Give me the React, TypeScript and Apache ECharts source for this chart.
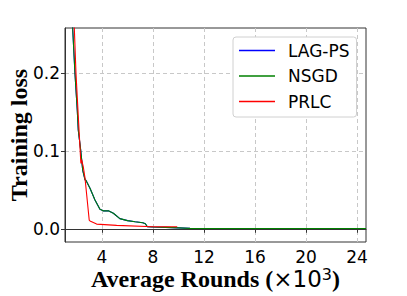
import React, { useEffect, useRef } from "react";
import * as echarts from "echarts";

const seriesNames = ["LAG-PS", "NSGD", "PRLC"];
const seriesColors = ["#0000ff", "#008000", "#ff0000"];

// NSGD (green)
const nsgdX = [1.62, 1.70, 1.88, 2.06, 2.14, 2.33, 2.49, 2.67, 2.75, 3.06, 3.45, 3.84, 4.1, 4.5, 4.89, 5.4, 6.0, 6.6, 7.2, 7.4, 7.56, 8.0, 9.0, 10.0, 10.9, 14.0, 18.0, 22.0, 24.7];
const nsgdY = [0.29, 0.258, 0.2, 0.153, 0.127, 0.101, 0.075, 0.063, 0.062, 0.052, 0.037, 0.025, 0.023, 0.023, 0.020, 0.013, 0.0105, 0.009, 0.0077, 0.0065, 0.0026, 0.0022, 0.0018, 0.0012, 0.0005, 0.0004, 0.0003, 0.0003, 0.0003];

// LAG-PS (blue) – hidden beneath NSGD in the reference
const lagX = nsgdX;
const lagY = nsgdY;

// PRLC (red)
const prlcX = [1.75, 1.83, 1.96, 2.2, 2.33, 2.35, 2.4, 2.53, 2.67, 3.0, 3.06, 3.58, 5.15, 8.0, 9.9];
const prlcY = [0.29, 0.258, 0.2, 0.127, 0.088, 0.084, 0.089, 0.080, 0.065, 0.011, 0.010, 0.006, 0.0044, 0.0026, 0.0026];

const xTicks = [4, 8, 12, 16, 20, 24];
const yTicks = [0, 0.1, 0.2];

const pairs = (xs: number[], ys: number[]) => xs.map((x, i) => [x, ys[i]]);

export default function App() {
  const ref = useRef<HTMLDivElement>(null);
  useEffect(() => {
    if (!ref.current) return;
    const chart = echarts.init(ref.current, null, { renderer: "svg" });
    const datas = [pairs(lagX, lagY), pairs(nsgdX, nsgdY), pairs(prlcX, prlcY)];
    chart.setOption({
      animation: false,
      backgroundColor: "#fff",
      grid: {
        left: 65,
        right: 41,
        top: 28,
        bottom: 54,
        outerBoundsMode: "none",
        containLabel: false,
        show: true,
        borderColor: "#333",
        borderWidth: 1,
      },
      legend: {
        orient: "vertical",
        left: 233,
        top: 37,
        padding: [5, 7, 7, 6],
        icon: "rect",
        itemWidth: 36,
        itemHeight: 1.4,
        itemGap: 8.5,
        borderColor: "#d0d0d0",
        borderWidth: 1,
        borderRadius: 3,
        backgroundColor: "#fff",
        textStyle: {
          fontFamily: "DejaVu Sans",
          fontSize: 17,
          color: "#000",
          lineHeight: 17,
          padding: [0, 0, 0, 8],
        },
        data: seriesNames,
      },
      xAxis: {
        type: "value",
        min: 1.1,
        max: 24.7,
        name: "Average Rounds ({m|×10}{s|3})",
        nameLocation: "middle",
        nameMoveOverlap: false,
        nameGap: 24,
        nameTextStyle: {
          fontFamily: "Liberation Serif",
          fontWeight: "bold",
          fontSize: 24,
          color: "#000",
          rich: {
            m: {
              fontFamily: "DejaVu Sans",
              fontWeight: "normal",
              fontSize: 23,
              color: "#000",
            },
            s: {
              fontFamily: "DejaVu Sans",
              fontWeight: "normal",
              fontSize: 16,
              verticalAlign: "top",
              padding: [0, 0, 10, 0],
              color: "#000",
            },
          },
        },
        axisLine: { show: true, lineStyle: { color: "#333", width: 1 } },
        axisTick: { show: true, length: 4, lineStyle: { color: "#333" }, customValues: xTicks },
        axisLabel: {
          customValues: xTicks,
          fontFamily: "DejaVu Sans",
          fontSize: 17,
          color: "#000",
          margin: 6,
        },
        splitLine: { show: true, lineStyle: { color: "#c8c8c8", type: [4, 3], width: 1 } },
      },
      yAxis: {
        type: "value",
        min: -0.017,
        max: 0.258,
        name: "Training loss",
        nameLocation: "middle",
        nameMoveOverlap: false,
        nameGap: 34,
        nameTextStyle: {
          fontFamily: "Liberation Serif",
          fontWeight: "bold",
          fontSize: 24,
          color: "#000",
        },
        axisLine: { show: true, lineStyle: { color: "#333", width: 1 } },
        axisTick: { show: true, length: 4, lineStyle: { color: "#333" }, customValues: yTicks },
        axisLabel: {
          customValues: yTicks,
          fontFamily: "DejaVu Sans",
          fontSize: 17,
          color: "#000",
          margin: 5,
          formatter: (v: number) => v.toFixed(1),
        },
        splitLine: { show: true, lineStyle: { color: "#c8c8c8", type: [4, 3], width: 1 } },
      },
      series: seriesNames.map((name, i) => ({
        name,
        type: "line",
        data: datas[i],
        symbol: "none",
        showSymbol: false,
        clip: true,
        lineStyle: { color: seriesColors[i], width: 1.1 },
        itemStyle: { color: seriesColors[i] },
      })),
    });
    return () => chart.dispose();
  }, []);
  return <div ref={ref} style={{ width: 407, height: 296, position: "absolute", left: 0, top: 0 }} />;
}
